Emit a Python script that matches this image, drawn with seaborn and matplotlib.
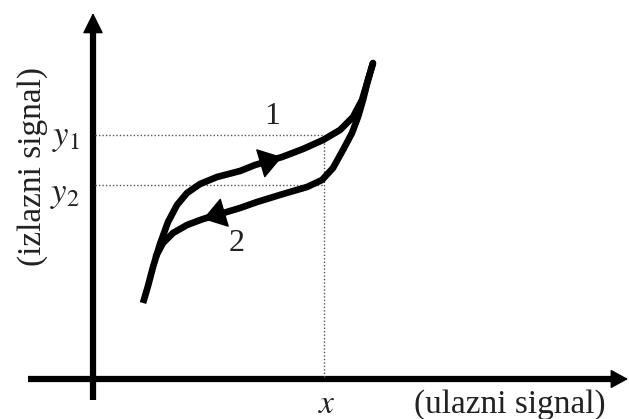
import matplotlib
matplotlib.use("Agg")
import matplotlib.pyplot as plt
import seaborn as sns
import numpy as np
import pandas as pd

# petlja histereze - koordinate s ishodistem u presjeku osi
upper_x = [50, 55, 60, 67, 75, 84, 94, 107, 124, 147, 162, 189, 210, 230, 247, 260, 269, 275, 280]
upper_y = [76, 93, 112, 135, 157, 174, 186, 195, 202, 208, 214, 222, 230, 239, 249, 262, 279, 299, 316]
lower_x = [280, 275, 270, 265, 259, 250, 240, 229, 214, 190, 164, 147, 127, 110, 94, 80, 70, 63]
lower_y = [316, 299, 279, 262, 246, 229, 211, 199, 192, 185, 177, 171, 165, 160, 154, 146, 136, 123]
x_mark = 231
y1_level = 244
y2_level = 194
branch_labels = ["1", "2"]
label_pos = [(179, 262), (144, 136)]

sns.set_style("white")
plt.rcParams["font.family"] = ["Liberation Serif", "DejaVu Serif"]
plt.rcParams["mathtext.fontset"] = "stix"

fig = plt.figure(figsize=(6.29, 4.19), dpi=100)
ax = fig.add_axes([0, 0, 1, 1])

# osi sa strelicama
ax.plot([0, 0], [-21, 350], color="k", lw=4.5, solid_capstyle="butt")
ax.plot([-65, 520], [0, 0], color="k", lw=4.5, solid_capstyle="butt")
ax.annotate("", xy=(0, 366), xytext=(0, 345),
            arrowprops=dict(arrowstyle="-|>,head_length=13,head_width=6.5", mutation_scale=1,
                            color="k", lw=1, shrinkA=0, shrinkB=0))
ax.annotate("", xy=(535, 0), xytext=(515, 0),
            arrowprops=dict(arrowstyle="-|>,head_length=11,head_width=6", mutation_scale=1,
                            color="k", lw=1, shrinkA=0, shrinkB=0))

# isprekidane pomocne linije
dots = dict(color="#555555", lw=1, linestyle=(0, (1, 1.5)))
ax.plot([2, x_mark], [y1_level, y1_level], **dots)
ax.plot([2, x_mark], [y2_level, y2_level], **dots)
ax.plot([x_mark, x_mark], [2, y1_level], **dots)

# grane petlje
df_up = pd.DataFrame({"x": upper_x, "y": upper_y})
df_lo = pd.DataFrame({"x": lower_x, "y": lower_y})
sns.lineplot(data=df_up, x="x", y="y", sort=False, color="k", lw=4.8, ax=ax,
             solid_capstyle="butt", solid_joinstyle="round")
sns.lineplot(data=df_lo, x="x", y="y", sort=False, color="k", lw=4.8, ax=ax,
             solid_capstyle="round", solid_joinstyle="round")
ax.set_xlim(-93, 536)
ax.set_ylim(-40, 379)
ax.axis("off")

# strelice smjera na granama
for xs, ys, i in [(upper_x, upper_y, 11), (lower_x, lower_y, 13)]:
    ax.annotate("", xy=(xs[i], ys[i]), xytext=(xs[i - 1], ys[i - 1]),
                arrowprops=dict(arrowstyle="-|>,head_length=15,head_width=10", mutation_scale=1,
                                color="k", lw=1, shrinkA=0, shrinkB=0))

for lab, (lx, ly) in zip(branch_labels, label_pos):
    ax.text(lx, ly, lab, fontsize=23, ha="center", va="center", color="#222222")

ax.text(-13, y1_level - 3, r"$y_1$", fontsize=25, ha="right", va="center", color="#222222")
ax.text(-13, y2_level - 9, r"$y_2$", fontsize=25, ha="right", va="center", color="#222222")
ax.text(x_mark + 3, -26, r"$x$", fontsize=24, ha="center", va="center", color="#222222")
ax.text(417, -26, "(ulazni signal)", fontsize=24, ha="center", va="center", color="#222222")
ax.text(-60, 212, "(izlazni signal)", fontsize=24, ha="center", va="center", rotation=90,
        color="#222222")

fig.savefig("out.png", dpi=100)
